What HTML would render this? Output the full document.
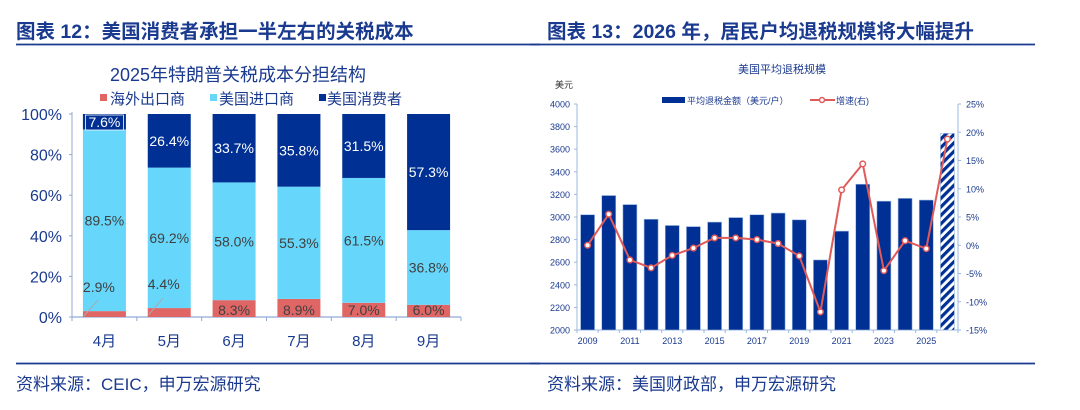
<!DOCTYPE html>
<html><head><meta charset="utf-8">
<style>
body{margin:0;background:#fff;width:1080px;height:410px;overflow:hidden;font-family:"Liberation Sans","Noto Sans CJK SC",sans-serif;}
svg{position:absolute;left:0;top:0}
</style></head>
<body>
<svg id="s" width="1080" height="410" font-family="Liberation Sans, Noto Sans CJK SC, sans-serif">
<text x="16" y="38" font-size="19.5" font-weight="bold" fill="#1a3a8f">图表 12：美国消费者承担一半左右的关税成本</text>
<line x1="16" y1="44.5" x2="540" y2="44.5" stroke="#1a3a8f" stroke-width="1.8"/>
<text x="547" y="38" font-size="19.5" font-weight="bold" fill="#1a3a8f">图表 13：2026 年，居民户均退税规模将大幅提升</text>
<line x1="530" y1="44.5" x2="1035" y2="44.5" stroke="#1a3a8f" stroke-width="1.8"/>
<line x1="16" y1="363.5" x2="540" y2="363.5" stroke="#1a3a8f" stroke-width="1.8"/>
<line x1="530" y1="363.5" x2="1035" y2="363.5" stroke="#1a3a8f" stroke-width="1.8"/>
<text x="16" y="390" font-size="17" fill="#1a3a8f">资料来源：CEIC，申万宏源研究</text>
<text x="547" y="390" font-size="17" fill="#1a3a8f">资料来源：美国财政部，申万宏源研究</text>

<text x="238" y="81" font-size="18" fill="#1a3a8f" text-anchor="middle">2025年特朗普关税成本分担结构</text>
<g font-size="15" fill="#1a3a8f">
<rect x="100" y="94" width="7" height="7" fill="#e06666"/><text x="110" y="104">海外出口商</text>
<rect x="210" y="94" width="7" height="7" fill="#66d6fb"/><text x="219" y="104">美国进口商</text>
<rect x="319" y="94" width="7" height="7" fill="#003094"/><text x="327" y="104">美国消费者</text>
</g>
<g id="L"></g>

<text x="782" y="73" font-size="11" fill="#1a3a8f" text-anchor="middle">美国平均退税规模</text>
<text x="555" y="88" font-size="9" fill="#333">美元</text>
<g font-size="9" fill="#1a3a8f">
<rect x="662" y="97" width="23" height="6" fill="#003094"/><text x="687" y="104">平均退税金额（美元/户）</text>
<line x1="810" y1="100" x2="835" y2="100" stroke="#e05a5a" stroke-width="2"/><circle cx="822" cy="100" r="2.5" fill="#fff" stroke="#e05a5a" stroke-width="1.5"/><text x="836" y="104">增速(右)</text>
</g>
<defs><pattern id="hatch" width="6" height="6" patternUnits="userSpaceOnUse" patternTransform="rotate(45)"><rect width="6" height="6" fill="#fff"/><rect width="3.2" height="6" fill="#003094"/></pattern></defs>
<g id="R"></g>
</svg>
<script>
// Left chart data
const months=["4月","5月","6月","7月","8月","9月"];
const exporters=[2.9,4.4,8.3,8.9,7.0,6.0];
const importers=[89.5,69.2,58.0,55.3,61.5,36.8];
const consumers=[7.6,26.4,33.7,35.8,31.5,57.3];
const pctTicks=[0,20,40,60,80,100];
// Right chart data
const years=[2009,2010,2011,2012,2013,2014,2015,2016,2017,2018,2019,2020,2021,2022,2023,2024,2025,2026];
const refunds=[3020,3190,3110,2980,2925,2915,2955,2995,3020,3035,2975,2620,2875,3290,3140,3165,3150,3740];
const growth=[0,5.5,-2.6,-4.0,-1.8,-0.5,1.3,1.3,1.0,0.3,-1.9,-11.8,9.8,14.4,-4.5,0.8,-0.6,18.8];
const leftTicks=[2000,2200,2400,2600,2800,3000,3200,3400,3600,3800,4000];
const rightTicks=[-15,-10,-5,0,5,10,15,20,25];
const yearLabels=[2009,2011,2013,2015,2017,2019,2021,2023,2025];

const NS="http://www.w3.org/2000/svg";
function mk(p,t,a,txt){const e=document.createElementNS(NS,t);for(const k in a)e.setAttribute(k,a[k]);if(txt!==undefined)e.textContent=txt;p.appendChild(e);return e;}

// ---- Left
const L=document.getElementById('L');
const lx0=72,lx1=461,ly0=317,ly1=114;
const ly=v=>ly0+(ly1-ly0)*v/100;
const band=(lx1-lx0)/months.length, bw=43;
const lc=i=>lx0+band*(i+0.5);
mk(L,'line',{x1:lx0,y1:ly1-2,x2:lx0,y2:ly0,stroke:'#8fa9d6','stroke-width':1});
mk(L,'line',{x1:lx0,y1:ly0,x2:lx1,y2:ly0,stroke:'#8fa9d6','stroke-width':1.2});
pctTicks.forEach(t=>{
 mk(L,'line',{x1:lx0-3,y1:ly(t),x2:lx0,y2:ly(t),stroke:'#8fa9d6'});
 const e=mk(L,'text',{x:lx0-10,y:ly(t)+6,'font-size':16,fill:'#1a3a8f','text-anchor':'end'},t+'%');
 
 
});
for(let i=0;i<=months.length;i++)mk(L,'line',{x1:lx0+band*i,y1:ly0,x2:lx0+band*i,y2:ly0+4,stroke:'#8fa9d6'});
months.forEach((m,i)=>{
 const x=lc(i)-bw/2;
 const segs=[[0,exporters[i],'#e06666','exporters'],[exporters[i],exporters[i]+importers[i],'#66d6fb','importers'],[exporters[i]+importers[i],100,'#003094','consumers']];
 segs.forEach(s=>{
  const r=mk(L,'rect',{x:x,y:ly(s[1]),width:bw,height:ly(s[0])-ly(s[1]),fill:s[2]});
  
  
 });
 const c=lc(i);
 // consumers label
 const cy=ly(exporters[i]+importers[i]+consumers[i]/2)+5;
 if(consumers[i]<10){mk(L,'rect',{x:c-19,y:ly(100)+1,width:38,height:15,fill:'#003094',stroke:'#fff','stroke-width':0.8});}
 const t1=mk(L,'text',{x:c,y:consumers[i]<10?ly(100)+13:cy,'font-size':14,fill:'#fff','text-anchor':'middle'},consumers[i].toFixed(1)+'%');
 
 
 const t2=mk(L,'text',{x:c,y:ly(exporters[i]+importers[i]/2)+5,'font-size':14,fill:'#404040','text-anchor':'middle'},importers[i].toFixed(1)+'%');
 
 
 let ex;
 if(exporters[i]<5){
  mk(L,'line',{x1:x+1,y1:ly(exporters[i]/2)+2,x2:x+15,y2:ly(exporters[i]/2)-14,stroke:'#aaa','stroke-width':1});
  ex=mk(L,'text',{x:x,y:ly(exporters[i])-19,'font-size':14,fill:'#404040'},exporters[i].toFixed(1)+'%');
 } else ex=mk(L,'text',{x:c,y:ly(0)-2,'font-size':14,fill:'#404040','text-anchor':'middle'},exporters[i].toFixed(1)+'%');
 
 
 const ml=mk(L,'text',{x:c,y:346,'font-size':15,fill:'#1a3a8f','text-anchor':'middle'},m);
 
 
});

// ---- Right
const R=document.getElementById('R');
const rx0=577,rx1=958,ry0=330,ry1=104;
const ryL=v=>ry0+(ry1-ry0)*(v-2000)/2000;
const ryR=v=>ry0+(ry1-ry0)*(v+15)/40;
const rb=(rx1-rx0)/years.length, rbw=14;
const rc=i=>rx0+rb*(i+0.5);
mk(R,'line',{x1:rx0,y1:ry1,x2:rx0,y2:ry0,stroke:'#9cb8e0'});
mk(R,'line',{x1:rx1,y1:ry1,x2:rx1,y2:ry0,stroke:'#9cb8e0'});
mk(R,'line',{x1:rx0,y1:ry0,x2:rx1,y2:ry0,stroke:'#9cb8e0'});
leftTicks.forEach(t=>{
 mk(R,'line',{x1:rx0-3,y1:ryL(t),x2:rx0,y2:ryL(t),stroke:'#9cb8e0'});
 const e=mk(R,'text',{x:rx0-7,y:ryL(t)+3.5,'font-size':9,fill:'#1a3a8f','text-anchor':'end'},t);
 
 
});
rightTicks.forEach(t=>{
 mk(R,'line',{x1:rx1,y1:ryR(t),x2:rx1+3,y2:ryR(t),stroke:'#9cb8e0'});
 const e=mk(R,'text',{x:rx1+8,y:ryR(t)+3.5,'font-size':9,fill:'#1a3a8f'},t+'%');
 
 
});
for(let i=0;i<=years.length;i++)mk(R,'line',{x1:rx0+rb*i,y1:ry0,x2:rx0+rb*i,y2:ry0+3,stroke:'#9cb8e0'});
years.forEach((y,i)=>{
 const last=i===years.length-1;
 const r=mk(R,'rect',{x:rc(i)-rbw/2,y:ryL(refunds[i]),width:rbw,height:ry0-ryL(refunds[i]),fill:last?'url(#hatch)':'#003094',stroke:'#9cb8e0','stroke-width':0.6});
 
 
 if(yearLabels.includes(y)){
  const e=mk(R,'text',{x:rc(i),y:ry0+14,'font-size':9,fill:'#1a3a8f','text-anchor':'middle'},y);
  
  
 }
});
const line=mk(R,'polyline',{points:growth.map((g,i)=>rc(i)+','+ryR(g)).join(' '),fill:'none',stroke:'#e05a5a','stroke-width':2});


growth.forEach((g,i)=>{
 const c=mk(R,'circle',{cx:rc(i),cy:ryR(g),r:2.8,fill:'#fff',stroke:'#e05a5a','stroke-width':1.5});
 
 
});
</script>
</body></html>
